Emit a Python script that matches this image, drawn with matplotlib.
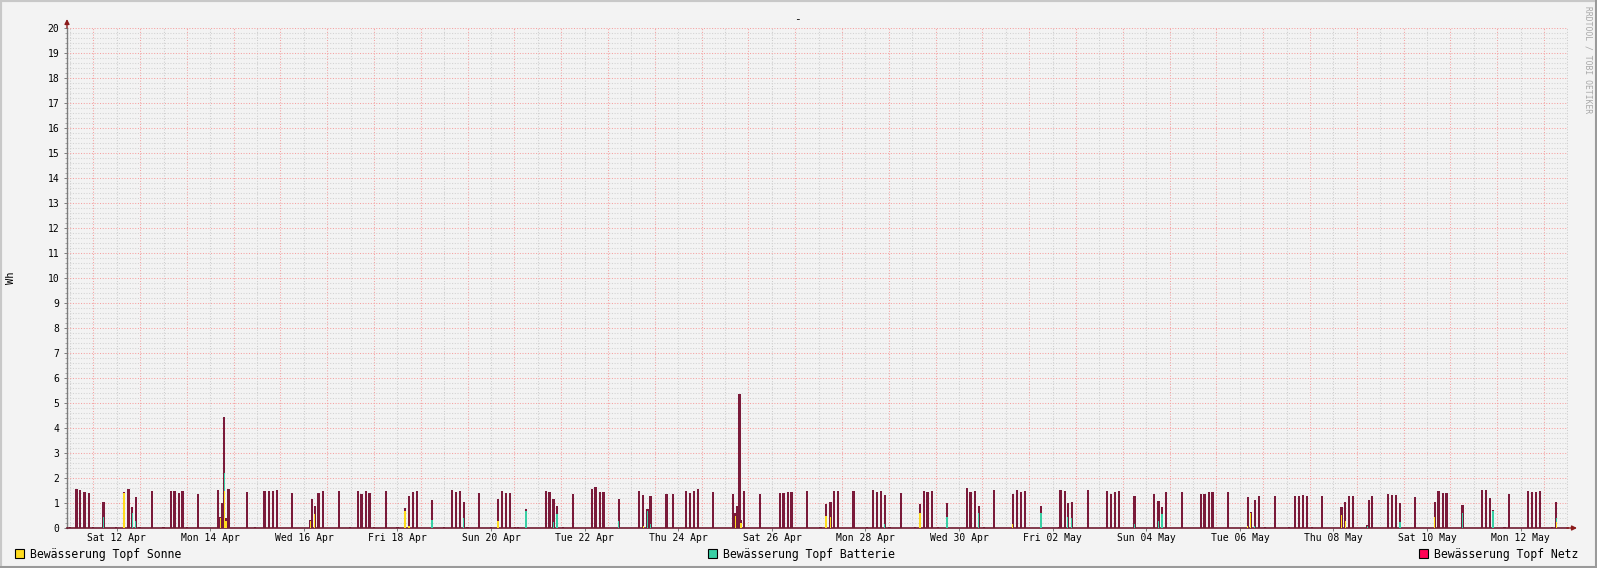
"""
Watering energy per pot (Wh), rrdtool-style bar chart over one month.
"""

import matplotlib

matplotlib.use("Agg")
import matplotlib.pyplot as plt
import matplotlib.patches as patches
import numpy as np

# time of each sample in days since Fri 11 Apr 00:00
t_days = [
    0.000, 0.137, 0.222, 0.316, 0.402, 0.494, 0.722, 0.985, 1.156, 1.256,
    1.333, 1.406, 1.491, 1.748, 2.004, 2.154, 2.239, 2.325, 2.410, 2.496,
    2.731, 3.165, 3.218, 3.256, 3.299, 3.336, 3.393, 3.784, 3.949, 4.162,
    4.248, 4.334, 4.419, 4.746, 5.137, 5.173, 5.231, 5.316, 5.402, 5.744,
    5.979, 6.150, 6.235, 6.321, 6.406, 6.492, 6.748, 7.004, 7.160, 7.246,
    7.332, 7.411, 7.738, 7.988, 8.165, 8.250, 8.336, 8.415, 8.500, 8.742,
    8.998, 9.148, 9.233, 9.319, 9.404, 9.505, 9.575, 9.746, 10.167, 10.252,
    10.330, 10.408, 10.537, 10.744, 11.150, 11.235, 11.321, 11.406, 11.727, 12.154,
    12.252, 12.342, 12.410, 12.752, 12.881, 13.159, 13.244, 13.330, 13.415, 13.736,
    14.163, 14.219, 14.255, 14.312, 14.340, 14.398, 14.740, 15.167, 15.252, 15.338,
    15.423, 15.751, 16.035, 16.156, 16.249, 16.328, 16.413, 16.748, 17.026, 17.154,
    17.240, 17.325, 17.411, 17.517, 17.753, 18.052, 18.165, 18.244, 18.329, 18.415,
    18.543, 18.742, 19.163, 19.248, 19.334, 19.419, 19.526, 19.740, 20.146, 20.231,
    20.317, 20.402, 20.751, 21.129, 21.171, 21.257, 21.321, 21.407, 21.749, 22.155,
    22.240, 22.326, 22.411, 22.744, 23.159, 23.261, 23.336, 23.416, 23.757, 24.163,
    24.248, 24.334, 24.419, 24.746, 25.167, 25.236, 25.322, 25.402, 25.531, 25.745,
    26.044, 26.172, 26.257, 26.343, 26.428, 26.541, 26.749, 27.168, 27.247, 27.326,
    27.412, 27.717, 27.753, 27.823, 28.159, 28.251, 28.336, 28.422, 28.736, 29.163,
    29.248, 29.334, 29.419, 29.753, 30.168, 30.253, 30.339, 30.409, 30.658, 30.744,
    31.157, 31.242, 31.328, 31.414, 31.670, 31.756,
]

sonne = [
    0, 0, 0, 0, 0, 0, 0, 0, 1.40, 0,
    0, 0, 0, 0, 0, 0, 0, 0, 0, 0,
    0, 0, 0.40, 0, 1.50, 0.30, 0, 0, 0, 0,
    0, 0, 0, 0, 0.30, 0, 0.55, 0, 0, 0,
    0, 0, 0, 0, 0, 0, 0, 0, 0.69, 0.10,
    0, 0, 0, 0, 0, 0, 0, 0, 0, 0,
    0, 0.27, 0, 0, 0, 0, 0, 0, 0, 0,
    0, 0, 0, 0, 0, 0, 0, 0, 0, 0,
    0.10, 0, 0, 0, 0, 0, 0, 0, 0, 0,
    0, 0.48, 0, 0, 0.20, 0, 0, 0, 0, 0,
    0, 0, 0, 0.47, 0.43, 0, 0, 0, 0, 0,
    0, 0, 0, 0, 0, 0, 0.60, 0, 0, 0,
    0, 0, 0, 0, 0, 0, 0, 0, 0.16, 0,
    0, 0, 0, 0, 0, 0, 0, 0, 0, 0,
    0, 0, 0, 0, 0, 0, 0, 0, 0, 0,
    0, 0, 0, 0, 0.10, 0.62, 0, 0, 0, 0,
    0, 0, 0, 0, 0, 0, 0, 0.51, 0.27, 0,
    0, 0, 0, 0, 0, 0, 0, 0, 0, 0.44,
    0, 0, 0, 0, 0, 0, 0, 0, 0, 0,
    0, 0, 0, 0, 0, 0.25,
]

batterie = [
    0, 0, 0, 0, 0, 0, 0.43, 0, 0, 0,
    0.60, 0.27, 0, 0, 0, 0, 0, 0, 0, 0,
    0, 0, 0, 0, 0.70, 0, 0, 0, 0, 0,
    0, 0, 0, 0, 0, 0, 0, 0, 0, 0,
    0, 0, 0, 0, 0, 0, 0, 0, 0, 0,
    0, 0, 0.32, 0, 0, 0, 0, 0.39, 0, 0,
    0, 0, 0, 0, 0, 0, 0, 0.67, 0, 0,
    0.23, 0.56, 0, 0, 0, 0, 0, 0, 0.27, 0,
    0, 0.67, 0.16, 0, 0, 0, 0, 0, 0, 0,
    0, 0, 0, 0, 0, 0, 0, 0, 0, 0,
    0, 0, 0, 0, 0, 0, 0, 0, 0, 0,
    0, 0, 0.16, 0, 0, 0, 0, 0, 0, 0,
    0, 0.43, 0, 0, 0, 0.60, 0, 0, 0, 0,
    0, 0, 0.60, 0, 0, 0, 0.43, 0.40, 0, 0,
    0, 0, 0, 0.16, 0, 0.27, 0.56, 0, 0, 0,
    0, 0, 0, 0, 0, 0, 0.10, 0, 0, 0,
    0, 0, 0, 0, 0, 0, 0, 0, 0, 0,
    0, 0.10, 0, 0, 0, 0, 0, 0.24, 0, 0,
    0, 0, 0, 0.60, 0, 0, 0, 0.67, 0, 0,
    0, 0, 0, 0, 0, 0.17,
]

netz = [
    0.04, 1.56, 1.51, 1.44, 1.40, 0.04, 0.61, 0.04, 0.04, 1.56,
    0.23, 0.97, 0.04, 1.47, 0.04, 1.48, 1.48, 1.40, 1.48, 0.04,
    1.36, 1.52, 0.03, 1.00, 2.25, 0.10, 1.56, 1.44, 0.04, 1.47,
    1.47, 1.47, 1.52, 1.40, 0.03, 1.15, 0.32, 1.40, 1.48, 1.48,
    0.04, 1.48, 1.37, 1.48, 1.40, 0.04, 1.48, 0.04, 0.11, 1.17,
    1.44, 1.48, 0.80, 0.04, 1.52, 1.44, 1.48, 0.65, 0.04, 1.40,
    0.04, 0.89, 1.48, 1.40, 1.40, 0.04, 0.04, 0.09, 1.48, 1.44,
    0.93, 0.32, 0.04, 1.37, 1.56, 1.64, 1.44, 1.44, 0.89, 1.48,
    1.22, 0.09, 1.12, 1.36, 1.36, 1.48, 1.40, 1.48, 1.56, 1.44,
    1.36, 0.11, 0.88, 5.36, 0.12, 1.48, 1.36, 1.40, 1.40, 1.44,
    1.44, 1.48, 0.04, 0.49, 0.61, 1.48, 1.48, 1.48, 0.04, 1.52,
    1.44, 1.48, 1.16, 0.04, 1.40, 0.04, 0.36, 1.48, 1.44, 1.48,
    0.04, 0.57, 1.60, 1.44, 1.48, 0.28, 0.04, 1.52, 1.20, 1.52,
    1.44, 1.48, 0.28, 0.04, 1.52, 1.48, 0.57, 0.64, 1.52, 1.48,
    1.36, 1.44, 1.48, 1.12, 1.36, 0.81, 0.28, 1.44, 1.44, 1.36,
    1.36, 1.44, 1.44, 1.44, 1.14, 0.04, 1.02, 1.28, 0.04, 1.28,
    0.04, 1.28, 1.28, 1.32, 1.28, 0.04, 1.28, 0.33, 0.77, 1.28,
    1.28, 0.02, 1.12, 1.28, 1.36, 1.32, 1.32, 0.76, 1.24, 0.60,
    1.48, 1.40, 1.40, 0.32, 1.52, 1.52, 1.20, 0.05, 0.04, 1.36,
    1.48, 1.44, 1.44, 1.48, 0.04, 0.62,
]

tick_days = [1, 3, 5, 7, 9, 11, 13, 15, 17, 19, 21, 23, 25, 27, 29, 31]
tick_labels = [
    "Sat 12 Apr", "Mon 14 Apr", "Wed 16 Apr", "Fri 18 Apr", "Sun 20 Apr",
    "Tue 22 Apr", "Thu 24 Apr", "Sat 26 Apr", "Mon 28 Apr", "Wed 30 Apr",
    "Fri 02 May", "Sun 04 May", "Tue 06 May", "Thu 08 May", "Sat 10 May",
    "Mon 12 May",
]
legend_labels = [
    "Bewässerung Topf Sonne",
    "Bewässerung Topf Batterie",
    "Bewässerung Topf Netz",
]

BACK = "#f3f3f3"
MAROON = "#7a1a3a"
YELLOW = "#ffdc1e"
TEAL = "#38cfa4"
NETZ = "#ff0054"
MONO = "DejaVu Sans Mono"

W, H = 1597, 568
fig = plt.figure(figsize=(W / 100, H / 100), dpi=100, facecolor=BACK)
ax = fig.add_axes([67 / W, (H - 528) / H, (1568 - 67) / W, 500 / H])
ax.set_facecolor(BACK)
ax.set_xlim(-0.062, 32.011)
ax.set_ylim(0, 20)

# grid: gray dotted minor, pink dotted major
dots = (0, (1, 1.6))
ax.vlines(np.arange(0, 33), 0, 20, colors="#cdcdcd", linewidth=0.75, linestyles=dots, zorder=0)
ax.vlines(np.arange(0.5, 32.5), 0, 20, colors="#f5a0a0", linewidth=0.75, linestyles=dots, zorder=0)
minor_y = [v for v in np.arange(0.2, 20.01, 0.2) if abs(v - round(v)) > 0.01]
ax.hlines(minor_y, -0.062, 32.011, colors="#d2d2d2", linewidth=0.75, linestyles=dots, zorder=0)
ax.hlines(np.arange(1, 21), -0.062, 32.011, colors="#f5a0a0", linewidth=0.75, linestyles=dots, zorder=0)

# bars: full height in maroon, solar / battery parts as thin coloured cores
t = np.array(t_days)
s = np.array(sonne)
b = np.array(batterie)
n = np.array(netz)
bw = 2.4 / 46.8
ax.bar(t, s + b + n, width=bw, color=MAROON, linewidth=0, zorder=2)
ax.bar(t, s, width=bw * 0.45, color=YELLOW, linewidth=0, zorder=3)
ax.bar(t, b, bottom=s, width=bw * 0.45, color=TEAL, linewidth=0, zorder=3)

for side in ("top", "right"):
    ax.spines[side].set_visible(False)
ax.spines["left"].set_color("#7c7c7c")
ax.spines["left"].set_linewidth(1.0)
ax.spines["bottom"].set_color("#6e1a30")
ax.spines["bottom"].set_linewidth(1.2)

ax.set_yticks(range(0, 21))
ax.set_yticks(minor_y, minor=True)
ax.set_xticks(tick_days)
ax.set_xticklabels(tick_labels)
ax.tick_params(axis="y", which="major", length=2.5, width=0.7, color="#7c7c7c",
               pad=3, labelsize=7, labelfontfamily=MONO)
ax.tick_params(axis="y", which="minor", length=1.5, width=0.6, color="#9c9c9c")
ax.tick_params(axis="x", which="major", length=2, width=0.7, color="#7c7c7c",
               pad=1.5, labelsize=7, labelfontfamily=MONO)

# arrows at axis ends
ax.annotate("", xy=(67 / W, (H - 19) / H), xytext=(67 / W, (H - 28) / H),
            xycoords="figure fraction",
            arrowprops=dict(arrowstyle="-|>", color="#8b1a1a", lw=1.0,
                            mutation_scale=7, shrinkA=0, shrinkB=0))
ax.annotate("", xy=(1577 / W, (H - 528) / H), xytext=(1567 / W, (H - 528) / H),
            xycoords="figure fraction",
            arrowprops=dict(arrowstyle="-|>", color="#8b1a1a", lw=1.0,
                            mutation_scale=7, shrinkA=0, shrinkB=0))

fig.text(797 / W, 1 - 19 / H, "-", ha="center", va="center", fontsize=8, family=MONO)
fig.text(11 / W, 1 - 278 / H, "Wh", rotation=90, ha="center", va="center",
         fontsize=7.5, family=MONO)
fig.text(1588 / W, 1 - 6 / H, "RRDTOOL / TOBI OETIKER", rotation=270,
         ha="center", va="top", fontsize=5.8, family=MONO, color="#a8a8a8")

# legend
legend_x = [15, 708, 1419]
legend_colors = [YELLOW, TEAL, NETZ]
for lx, lc, lab in zip(legend_x, legend_colors, legend_labels):
    fig.patches.append(patches.Rectangle((lx / W, (H - 558) / H), 9 / W, 9 / H,
                                         transform=fig.transFigure, facecolor=lc,
                                         edgecolor="black", linewidth=0.8))
    fig.text((lx + 15) / W, 1 - 554.5 / H, lab, ha="left", va="center",
             fontsize=8.3, family=MONO)

# image frame
fig.patches.append(patches.Rectangle((0, 0), 1, 1, transform=fig.transFigure,
                                     fill=False, edgecolor="#c8c8c8", linewidth=3))
fig.patches.append(patches.Rectangle((0, 0), 1, 2.5 / H, transform=fig.transFigure,
                                     facecolor="#9a9a9a", linewidth=0))
fig.patches.append(patches.Rectangle((1 - 2.5 / W, 0), 2.5 / W, 1, transform=fig.transFigure,
                                     facecolor="#9a9a9a", linewidth=0))

fig.savefig("out.png", dpi=100, facecolor=BACK)
